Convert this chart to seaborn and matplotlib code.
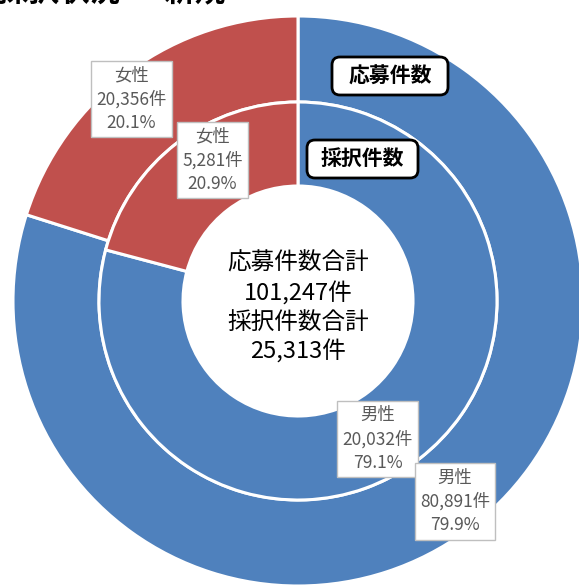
import matplotlib
matplotlib.use("Agg")
import matplotlib.pyplot as plt
from matplotlib.patches import FancyBboxPatch
import seaborn as sns

sns.set_theme(style="white")
plt.rcParams['font.family'] = ['Noto Sans CJK JP', 'DejaVu Sans']

categories = ["男性", "女性"]
applications = [80891, 20356]
adoptions = [20032, 5281]
colors = ["#4F81BD", "#C0504D"]
title_text = "採択状況 － 新規"
outer_tag = "応募件数"
inner_tag = "採択件数"

W, H = 579, 585
fig = plt.figure(figsize=(W / 100, H / 100), dpi=100)
ax = fig.add_axes([0, 0, 1, 1])
ax.set_axis_off()

cx, cy = 298, H - 301
wp = dict(edgecolor="white", linewidth=2.2)
ax.pie(applications, colors=colors, startangle=90, counterclock=False,
       radius=285, center=(cx, cy), wedgeprops=dict(width=86, **wp))
ax.pie(adoptions, colors=colors, startangle=90, counterclock=False,
       radius=199, center=(cx, cy), wedgeprops=dict(width=84, **wp))
ax.set_xlim(0, W)
ax.set_ylim(0, H)
ax.set_aspect("equal")

def lab(vals, i):
    return f"{categories[i]}\n{vals[i]:,}件\n{vals[i] / sum(vals) * 100:.1f}%"

box = dict(boxstyle="square,pad=0.3", fc="white", ec="#BFBFBF", lw=1)
tkw = dict(ha="center", va="center", fontsize=12.5, color="#595959",
           linespacing=1.4, bbox=box)
ax.text(131.5, H - 99, lab(applications, 1), **tkw)
ax.text(212.5, H - 160, lab(adoptions, 1), **tkw)
ax.text(377.5, H - 439, lab(adoptions, 0), **tkw)
ax.text(455, H - 501.5, lab(applications, 0), **tkw)

center = (f"応募件数合計\n{sum(applications):,}件\n"
          f"採択件数合計\n{sum(adoptions):,}件")
ax.text(298.5, H - 308, center, ha="center", va="center", fontsize=17,
        color="black", linespacing=1.32)

def tag(x0, y0, x1, y1, s):
    p = FancyBboxPatch((x0, H - y1), x1 - x0, y1 - y0,
                       boxstyle="round,pad=0,rounding_size=8",
                       fc="white", ec="black", lw=2.0, zorder=5)
    ax.add_patch(p)
    ax.text((x0 + x1) / 2, H - (y0 + y1) / 2, s, ha="center", va="center",
            fontsize=15, fontweight="bold", color="black", zorder=6)

tag(332, 57, 448, 95, outer_tag)
tag(307, 140, 418, 178, inner_tag)

ax.text(-2, H - 1.5, title_text, ha="left", va="baseline", fontsize=22,
        fontweight="bold", color="black", clip_on=False)

fig.savefig("out.png", dpi=100)
